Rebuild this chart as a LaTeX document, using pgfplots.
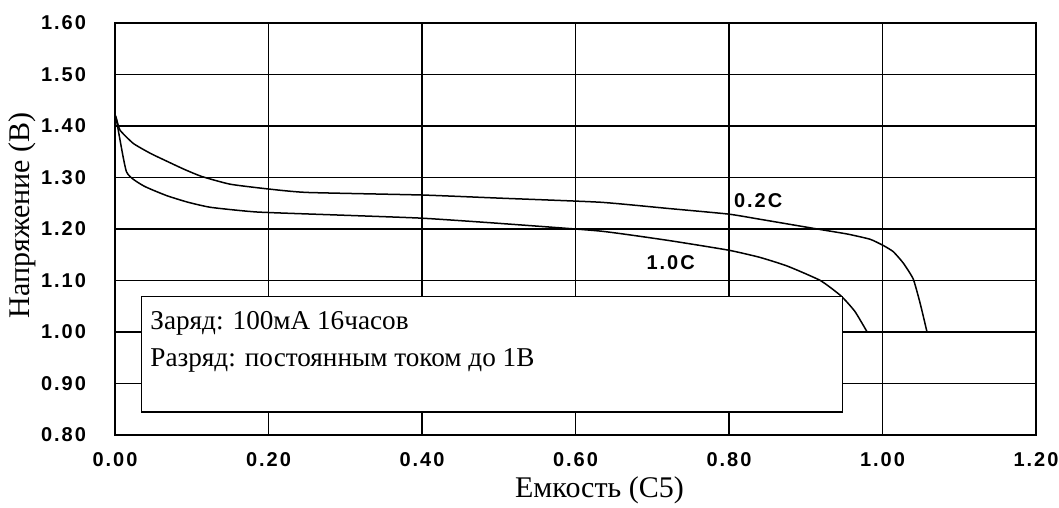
\documentclass[border=0pt]{standalone}
\usepackage{fontspec}
\setmainfont{Liberation Serif}
\newfontfamily\tickfont[LetterSpace=10]{Liberation Sans}
\usepackage{pgfplots}
\pgfplotsset{compat=1.18}

\newcommand{\tf}{\tickfont\bfseries\fontsize{10}{11}\selectfont}
\newcommand{\lf}{\fontsize{15}{17}\selectfont}

\begin{document}
\begin{tikzpicture}
\useasboundingbox (0,0) rectangle (529.5pt,254pt);
\begin{axis}[
  at={(57.5pt,36.5pt)}, anchor=south west,
  scale only axis, width=460.5pt, height=206pt,
  xmin=0, xmax=1.2, ymin=0.8, ymax=1.6,
  xtick={0,0.2,...,1.21}, ytick={0.8,0.9,...,1.61},
  major tick length=0pt,
  grid=major,
  major grid style={black, line width=0.65pt},
  axis line style={black, line width=0.7pt},
  /pgf/number format/assume math mode=true,
  /pgf/number format/.cd, fixed, fixed zerofill, precision=2, /pgfplots/.cd,
  ticklabel style={font=\tf},
  xticklabel style={yshift=-5pt},
  yticklabel style={xshift=-11pt},
  xlabel={Емкость (C5)},
  ylabel={Напряжение (B)},
  every axis x label/.style={at={(axis description cs:0.526,-0.1335)}, anchor=center, font=\lf},
  every axis y label/.style={at={(axis description cs:-0.101,0.533)}, rotate=90, anchor=center, font=\lf},
]
% 0.2C
\addplot[black, line width=0.75pt, smooth, tension=0.3] coordinates {
  (0,1.392) (0.001,1.418) (0.0065,1.392) (0.024,1.366) (0.046,1.347)
  (0.067,1.332) (0.090,1.316) (0.113,1.302) (0.150,1.287)
  (0.198,1.278) (0.250,1.271) (0.4,1.266) (0.5,1.260) (0.632,1.252)
  (0.72,1.240) (0.799,1.229) (0.840,1.219) (0.919,1.199) (0.955,1.190)
  (0.984,1.180) (1.001,1.168) (1.014,1.156) (1.027,1.134) (1.040,1.103)
  (1.049,1.056) (1.058,1.0)
};
% 1.0C
\addplot[black, line width=0.75pt, smooth, tension=0.3] coordinates {
  (0,1.392) (0.001,1.418) (0.015,1.311) (0.037,1.284) (0.067,1.265)
  (0.095,1.252) (0.125,1.242) (0.185,1.233) (0.293,1.227)
  (0.4,1.221) (0.5,1.211) (0.632,1.196) (0.72,1.178) (0.799,1.159)
  (0.840,1.145) (0.876,1.128) (0.919,1.100) (0.946,1.070) (0.964,1.040)
  (0.980,1.0)
};
\draw[black, line width=0.7pt, fill=white] (axis cs:0.0348,0.845) rectangle (axis cs:0.948,1.0685);
\node[anchor=west, font=\fontsize{13.6}{15}\selectfont, inner sep=0pt] at (axis cs:0.0456,1.017) {Заряд: 100мА 16часов};
\node[anchor=west, font=\fontsize{13.6}{15}\selectfont, inner sep=0pt] at (axis cs:0.0456,0.945) {Разряд: постоянным током до 1В};
\node[font=\tf] at (axis cs:0.838,1.255) {0.2C};
\node[font=\tf] at (axis cs:0.724,1.135) {1.0C};
\end{axis}
\end{tikzpicture}
\end{document}
